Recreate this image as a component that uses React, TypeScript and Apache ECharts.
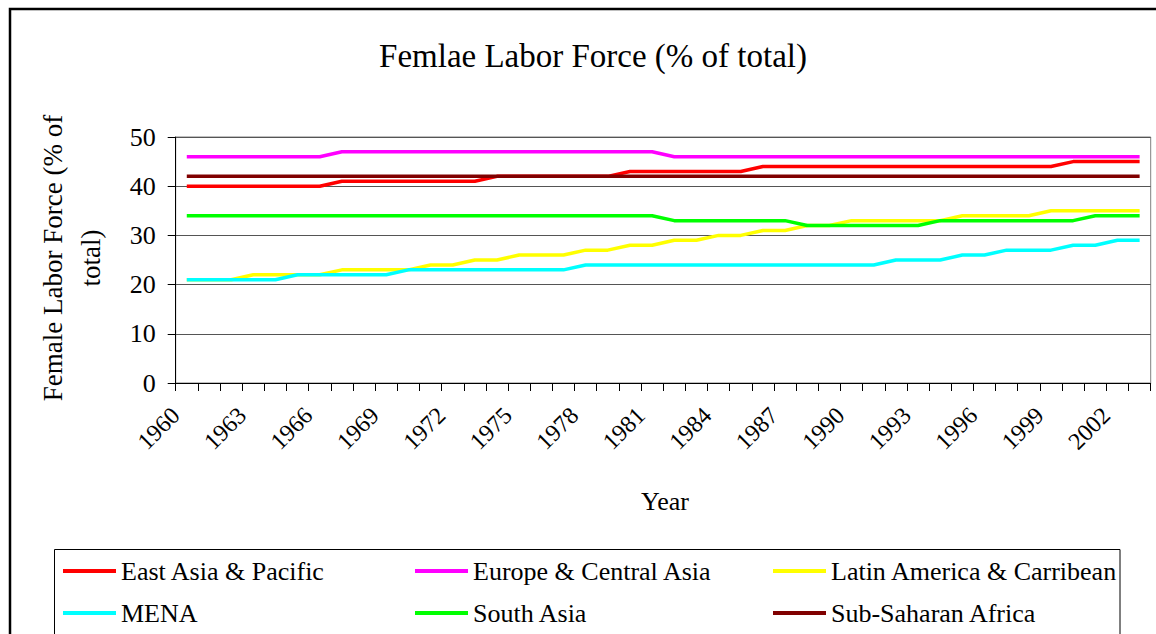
import React, { useEffect, useRef } from "react";
import * as echarts from "echarts";

const years = [
  "1960", "1961", "1962", "1963", "1964", "1965", "1966", "1967", "1968", "1969",
  "1970", "1971", "1972", "1973", "1974", "1975", "1976", "1977", "1978", "1979",
  "1980", "1981", "1982", "1983", "1984", "1985", "1986", "1987", "1988", "1989",
  "1990", "1991", "1992", "1993", "1994", "1995", "1996", "1997", "1998", "1999",
  "2000", "2001", "2002", "2003",
];

const eastAsia = [
  40, 40, 40, 40, 40, 40, 40, 41, 41, 41,
  41, 41, 41, 41, 42, 42, 42, 42, 42, 42,
  43, 43, 43, 43, 43, 43, 44, 44, 44, 44,
  44, 44, 44, 44, 44, 44, 44, 44, 44, 44,
  45, 45, 45, 45,
];
const europe = [
  46, 46, 46, 46, 46, 46, 46, 47, 47, 47,
  47, 47, 47, 47, 47, 47, 47, 47, 47, 47,
  47, 47, 46, 46, 46, 46, 46, 46, 46, 46,
  46, 46, 46, 46, 46, 46, 46, 46, 46, 46,
  46, 46, 46, 46,
];
const latinAmerica = [
  21, 21, 21, 22, 22, 22, 22, 23, 23, 23,
  23, 24, 24, 25, 25, 26, 26, 26, 27, 27,
  28, 28, 29, 29, 30, 30, 31, 31, 32, 32,
  33, 33, 33, 33, 33, 34, 34, 34, 34, 35,
  35, 35, 35, 35,
];
const mena = [
  21, 21, 21, 21, 21, 22, 22, 22, 22, 22,
  23, 23, 23, 23, 23, 23, 23, 23, 24, 24,
  24, 24, 24, 24, 24, 24, 24, 24, 24, 24,
  24, 24, 25, 25, 25, 26, 26, 27, 27, 27,
  28, 28, 29, 29,
];
const southAsia = [
  34, 34, 34, 34, 34, 34, 34, 34, 34, 34,
  34, 34, 34, 34, 34, 34, 34, 34, 34, 34,
  34, 34, 33, 33, 33, 33, 33, 33, 32, 32,
  32, 32, 32, 32, 33, 33, 33, 33, 33, 33,
  33, 34, 34, 34,
];
const subSaharan = [
  42, 42, 42, 42, 42, 42, 42, 42, 42, 42,
  42, 42, 42, 42, 42, 42, 42, 42, 42, 42,
  42, 42, 42, 42, 42, 42, 42, 42, 42, 42,
  42, 42, 42, 42, 42, 42, 42, 42, 42, 42,
  42, 42, 42, 42,
];

const seriesNames = [
  "East Asia & Pacific",
  "Europe & Central Asia",
  "Latin America & Carribean",
  "MENA",
  "South Asia",
  "Sub-Saharan Africa",
];
const seriesColors = ["#FF0000", "#FF00FF", "#FFFF00", "#00FFFF", "#00FF00", "#800000"];
const seriesData = [eastAsia, europe, latinAmerica, mena, southAsia, subSaharan];

const FONT = "Liberation Serif, serif";

export default function App() {
  const ref = useRef<HTMLDivElement>(null);

  useEffect(() => {
    if (!ref.current) return;
    const chart = echarts.init(ref.current, undefined, { renderer: "svg" });

    const legendCol = (names: string[], left: number) => ({
      orient: "vertical",
      left,
      top: 558,
      padding: 0,
      itemGap: 16,
      itemWidth: 53,
      itemHeight: 4,
      icon: "rect",
      data: names,
      selectedMode: false,
      textStyle: { fontFamily: FONT, fontSize: 26, color: "#000", lineHeight: 26 },
    });

    chart.setOption({
      animation: false,
      backgroundColor: "#fff",
      textStyle: { fontFamily: FONT },
      grid: {
        left: 175.7,
        top: 137,
        right: 1156 - 1150.7,
        bottom: 634 - 383,
        show: true,
        borderColor: "#808080",
        borderWidth: 1,
        backgroundColor: "transparent",
      },
      legend: [
        legendCol([seriesNames[0], seriesNames[3]], 63),
        legendCol([seriesNames[1], seriesNames[4]], 415),
        legendCol([seriesNames[2], seriesNames[5]], 773),
      ],
      xAxis: {
        type: "category",
        data: years,
        boundaryGap: true,
        axisLine: { show: true, lineStyle: { color: "#000", width: 1 } },
        axisTick: { show: true, interval: 0, length: 8, lineStyle: { color: "#000" } },
        axisLabel: {
          interval: 2,
          rotate: 45,
          margin: 17,
          padding: [0, 16, 0, 0],
          fontFamily: FONT,
          fontSize: 24,
          color: "#000",
        },
        splitLine: { show: false },
      },
      yAxis: {
        type: "value",
        min: 0,
        max: 50,
        interval: 10,
        axisLine: { show: true, lineStyle: { color: "#000", width: 1 } },
        axisTick: { show: true, length: 8, lineStyle: { color: "#000" } },
        axisLabel: { margin: 20, fontFamily: FONT, fontSize: 26, color: "#000" },
        splitLine: { show: true, lineStyle: { color: "#555", width: 1 } },
      },
      series: seriesNames.map((name, i) => ({
        name,
        type: "line",
        data: seriesData[i],
        symbol: "none",
        color: seriesColors[i],
        lineStyle: { color: seriesColors[i], width: 3.5 },
      })),
      graphic: [
        {
          type: "polyline",
          shape: { points: [[10, 650], [10, 9], [1170, 9]] },
          style: { stroke: "#000", lineWidth: 2.5, fill: "none" },
        },
        {
          type: "rect",
          shape: { x: 54.5, y: 549.5, width: 1065.5, height: 120 },
          style: { stroke: "#000", lineWidth: 1, fill: "none" },
        },
        {
          type: "text",
          x: 593,
          y: 56,
          style: {
            text: "Femlae Labor Force (% of total)",
            fontFamily: FONT,
            fontSize: 33,
            fill: "#000",
            textAlign: "center",
            textVerticalAlign: "middle",
          },
        },
        {
          type: "text",
          x: 665,
          y: 501,
          style: {
            text: "Year",
            fontFamily: FONT,
            fontSize: 26,
            fill: "#000",
            textAlign: "center",
            textVerticalAlign: "middle",
          },
        },
        {
          type: "text",
          x: 53,
          y: 258,
          rotation: Math.PI / 2,
          style: {
            text: "Female Labor Force (% of",
            fontFamily: FONT,
            fontSize: 27,
            fill: "#000",
            textAlign: "center",
            textVerticalAlign: "middle",
          },
        },
        {
          type: "text",
          x: 91,
          y: 258,
          rotation: Math.PI / 2,
          style: {
            text: "total)",
            fontFamily: FONT,
            fontSize: 27,
            fill: "#000",
            textAlign: "center",
            textVerticalAlign: "middle",
          },
        },
      ],
    });

    return () => chart.dispose();
  }, []);

  return (
    <div
      ref={ref}
      style={{ position: "absolute", left: 0, top: 0, width: 1156, height: 634, background: "#fff" }}
    />
  );
}
